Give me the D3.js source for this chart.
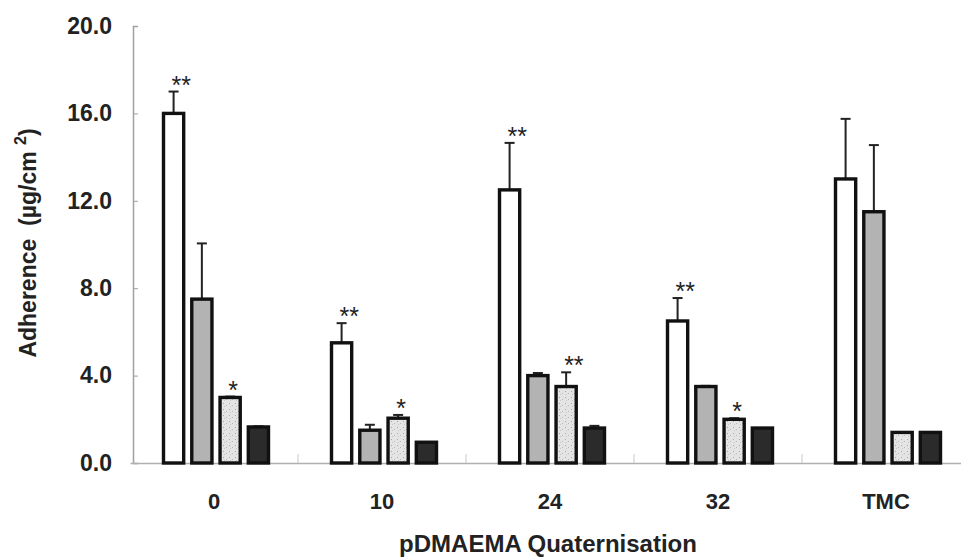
<!DOCTYPE html>
<html>
<head>
    <title>Adherence bar chart</title>
    <script src="https://d3js.org/d3.v7.min.js"></script>
    <style>
        body { margin: 0; background: #fff; }
        text { font-family: "Liberation Sans", Arial, sans-serif; }
    </style>
</head>
<body>
    <div id="container"></div>
    <script>
        const width = 961;
        const height = 558;
        const margin = { top: 26, right: -9, bottom: 95, left: 130 };

        // data
        const categories = ['0', '10', '24', '32', 'TMC'];
        const whiteVals = [16.0, 5.5, 12.5, 6.5, 13.0];
        const whiteErr = [1.0, 0.9, 2.15, 1.05, 2.75];
        const greyVals = [7.5, 1.5, 4.0, 3.5, 11.5];
        const greyErr = [2.55, 0.25, 0.12, 0.03, 3.05];
        const dottedVals = [3.0, 2.05, 3.5, 2.0, 1.4];
        const dottedErr = [0.04, 0.15, 0.65, 0.05, 0];
        const blackVals = [1.65, 0.95, 1.6, 1.6, 1.4];
        const blackErr = [0.03, 0, 0.1, 0, 0];
        const whiteSig = ['**', '**', '**', '**', ''];
        const dottedSig = ['*', '*', '**', '*', ''];
        const yTicks = [0, 4, 8, 12, 16, 20];

        const seriesNames = ['white', 'grey', 'dotted', 'black'];
        const seriesVals = [whiteVals, greyVals, dottedVals, blackVals];
        const seriesErr = [whiteErr, greyErr, dottedErr, blackErr];
        const seriesSig = [whiteSig, null, dottedSig, null];
        const fills = ['#ffffff', '#b3b3b3', 'url(#dots)', '#2b2b2b'];

        const svg = d3.select("#container").append("svg")
            .attr("width", width)
            .attr("height", height);

        // speckled fill for the third series
        const pat = svg.append("defs").append("pattern")
            .attr("id", "dots")
            .attr("patternUnits", "userSpaceOnUse")
            .attr("width", 6)
            .attr("height", 6);
        pat.append("rect").attr("width", 6).attr("height", 6).attr("fill", "#e4e4e4");
        pat.append("rect").attr("x", 1).attr("y", 1).attr("width", 1).attr("height", 1).attr("fill", "#a8a8a8");
        pat.append("rect").attr("x", 4).attr("y", 3).attr("width", 1).attr("height", 1).attr("fill", "#b8b8b8");
        pat.append("rect").attr("x", 2).attr("y", 4).attr("width", 1).attr("height", 1).attr("fill", "#c4c4c4");

        const x = d3.scaleBand()
            .domain(categories)
            .range([margin.left, width - margin.right])
            .padding(0);

        const xInner = d3.scaleBand()
            .domain(seriesNames)
            .range([0, 108])
            .paddingInner(0.18)
            .paddingOuter(0);

        const y = d3.scaleLinear()
            .domain([0, 20])
            .range([height - margin.bottom, margin.top]);

        // y axis
        const yAxis = svg.append("g")
            .attr("transform", `translate(${margin.left + 3},0)`)
            .call(d3.axisLeft(y).tickValues(yTicks).tickFormat(d3.format(".1f")).tickSize(-5).tickPadding(21));
        yAxis.select(".domain").attr("stroke", "#a0a0a0").attr("stroke-width", 1.5);
        yAxis.selectAll(".tick line").attr("stroke", "#a0a0a0");
        yAxis.selectAll("text")
            .attr("font-size", 23)
            .attr("font-weight", "bold")
            .attr("fill", "#222")
            .attr("font-family", "Liberation Sans, Arial, sans-serif");

        // x axis: labels at group centres, small ticks between groups
        const xAxis = svg.append("g")
            .attr("transform", `translate(0,${y(0)})`)
            .call(d3.axisBottom(x).tickSize(0).tickPadding(30));
        xAxis.select(".domain").attr("stroke", "#b0b0b0").attr("stroke-width", 1.5);
        xAxis.selectAll("text")
            .attr("font-size", 22)
            .attr("font-weight", "bold")
            .attr("fill", "#222")
            .attr("font-family", "Liberation Sans, Arial, sans-serif");

        svg.append("g").selectAll("line")
            .data(categories.slice(1))
            .join("line")
            .attr("x1", d => x(d))
            .attr("x2", d => x(d))
            .attr("y1", y(0))
            .attr("y2", y(0) - 9)
            .attr("stroke", "#c8c8c8")
            .attr("stroke-width", 1);

        // bars, error bars, significance marks
        seriesNames.forEach((s, si) => {
            const g = svg.append("g");
            const vals = seriesVals[si];
            const errs = seriesErr[si];
            const cx = (c) => x(c) + 32 + xInner(s) + xInner.bandwidth() / 2;

            g.selectAll("line.err")
                .data(categories)
                .join("line")
                .attr("class", "err")
                .attr("x1", c => cx(c))
                .attr("x2", c => cx(c))
                .attr("y1", (c, i) => y(vals[i]))
                .attr("y2", (c, i) => y(vals[i] + errs[i]))
                .attr("stroke", "#222")
                .attr("stroke-width", 2);

            g.selectAll("line.cap")
                .data(categories)
                .join("line")
                .attr("class", "cap")
                .attr("x1", c => cx(c) - 5)
                .attr("x2", c => cx(c) + 5)
                .attr("y1", (c, i) => y(vals[i] + errs[i]))
                .attr("y2", (c, i) => y(vals[i] + errs[i]))
                .attr("stroke", "#222")
                .attr("stroke-width", 2)
                .attr("display", (c, i) => errs[i] > 0 ? null : "none");

            g.selectAll("rect")
                .data(categories)
                .join("rect")
                .attr("x", c => x(c) + 32 + xInner(s) + 1.5)
                .attr("y", (c, i) => y(vals[i]))
                .attr("width", xInner.bandwidth() - 3)
                .attr("height", (c, i) => y(0) - y(vals[i]))
                .attr("fill", fills[si])
                .attr("stroke", "#111")
                .attr("stroke-width", 3.4);

            if (seriesSig[si]) {
                g.selectAll("text")
                    .data(categories)
                    .join("text")
                    .attr("x", c => cx(c) - 2)
                    .attr("y", (c, i) => y(vals[i] + errs[i]) + 2)
                    .attr("text-anchor", "start")
                    .attr("font-size", 25)
                    .attr("fill", "#222")
                    .text((c, i) => seriesSig[si][i]);
            }
        });

        // axis titles
        const yTitle = svg.append("text")
            .attr("transform", "translate(36,243) rotate(-90)")
            .attr("text-anchor", "middle")
            .attr("font-size", 23)
            .attr("font-weight", "bold")
            .attr("fill", "#222");
        yTitle.append("tspan").text("Adherence\u00a0\u00a0(µg/cm\u00a0");
        yTitle.append("tspan").attr("dy", -10).attr("font-size", 16).text("2");
        yTitle.append("tspan").attr("dy", 10).text(")");

        svg.append("text")
            .attr("x", (margin.left + width - margin.right) / 2 - 2)
            .attr("y", 552)
            .attr("text-anchor", "middle")
            .attr("font-size", 24)
            .attr("font-weight", "bold")
            .attr("fill", "#222")
            .text("pDMAEMA Quaternisation");
    </script>
</body>
</html>
